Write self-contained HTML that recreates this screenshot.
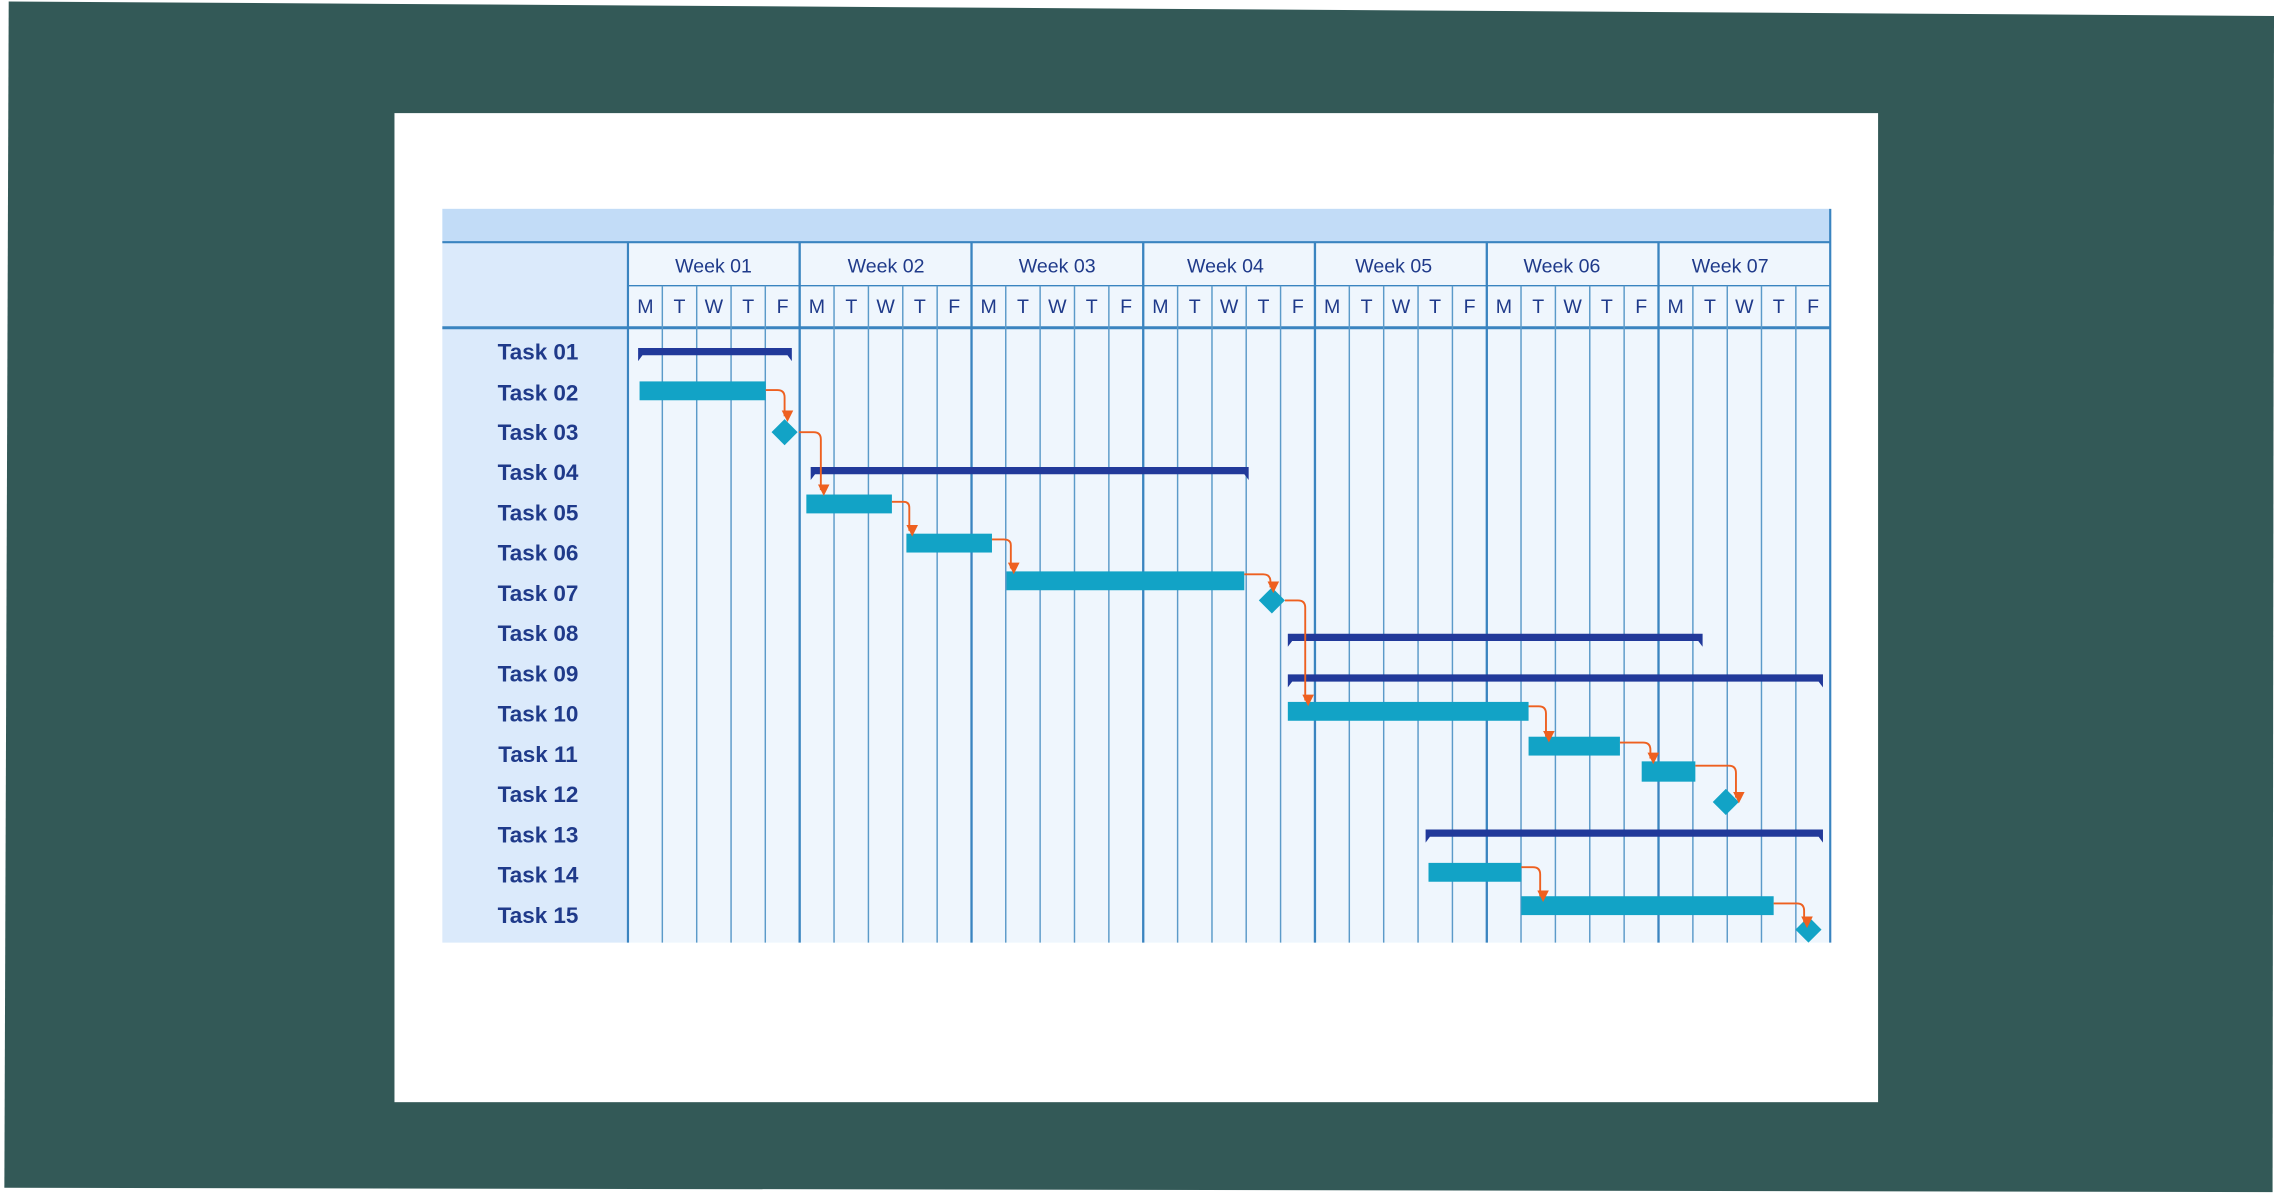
<!DOCTYPE html>
<html><head><meta charset="utf-8"><style>
html,body{margin:0;padding:0;background:#fff;}
svg{display:block;}
text{font-family:"Liberation Sans",sans-serif;}
</style></head><body>
<svg width="2274" height="1196" viewBox="0 0 1568 824.7" preserveAspectRatio="none" xmlns="http://www.w3.org/2000/svg">
<defs>
<marker id="ar" markerWidth="8" markerHeight="8" refX="4" refY="6" orient="auto" markerUnits="userSpaceOnUse" viewBox="0 0 8 8">
<path d="M0,0 L8,0 L4,8 Z" fill="#ee6020" transform="rotate(-90 4 4)"/>
</marker>
</defs>
<rect width="1568" height="824.7" fill="#fff"/>
<polygon points="6,1 1568,11 1567,822 3,819" fill="#335957"/>
<rect x="272" y="78" width="1023" height="682" fill="#fff"/>
<!-- chart -->
<rect x="305" y="144" width="957" height="23" fill="#c2dcf7"/>
<rect x="305" y="167" width="128" height="483" fill="#dbeafb"/>
<rect x="433" y="167" width="829" height="483" fill="#eff6fd"/>
<line x1="305" y1="167" x2="1262" y2="167" stroke="#3a84c0" stroke-width="1.5"/>
<line x1="433" y1="197" x2="1262" y2="197" stroke="#3a84c0" stroke-width="1"/>
<line x1="305" y1="226" x2="1262" y2="226" stroke="#3a84c0" stroke-width="2"/>
<line x1="433" y1="167" x2="433" y2="650" stroke="#3a84c0" stroke-width="1.5"/>
<line x1="1262" y1="144" x2="1262" y2="650" stroke="#3a84c0" stroke-width="1.5"/>
<g stroke="#5b9ac9" stroke-width="1">
<line x1="456.7" y1="197" x2="456.7" y2="650"/><line x1="480.4" y1="197" x2="480.4" y2="650"/><line x1="504.1" y1="197" x2="504.1" y2="650"/><line x1="527.7" y1="197" x2="527.7" y2="650"/>
<line x1="575.1" y1="197" x2="575.1" y2="650"/><line x1="598.8" y1="197" x2="598.8" y2="650"/><line x1="622.5" y1="197" x2="622.5" y2="650"/><line x1="646.2" y1="197" x2="646.2" y2="650"/>
<line x1="693.5" y1="197" x2="693.5" y2="650"/><line x1="717.2" y1="197" x2="717.2" y2="650"/><line x1="740.9" y1="197" x2="740.9" y2="650"/><line x1="764.6" y1="197" x2="764.6" y2="650"/>
<line x1="812" y1="197" x2="812" y2="650"/><line x1="835.7" y1="197" x2="835.7" y2="650"/><line x1="859.3" y1="197" x2="859.3" y2="650"/><line x1="883" y1="197" x2="883" y2="650"/>
<line x1="930.4" y1="197" x2="930.4" y2="650"/><line x1="954.1" y1="197" x2="954.1" y2="650"/><line x1="977.8" y1="197" x2="977.8" y2="650"/><line x1="1001.5" y1="197" x2="1001.5" y2="650"/>
<line x1="1048.8" y1="197" x2="1048.8" y2="650"/><line x1="1072.5" y1="197" x2="1072.5" y2="650"/><line x1="1096.2" y1="197" x2="1096.2" y2="650"/><line x1="1119.9" y1="197" x2="1119.9" y2="650"/>
<line x1="1167.3" y1="197" x2="1167.3" y2="650"/><line x1="1191" y1="197" x2="1191" y2="650"/><line x1="1214.6" y1="197" x2="1214.6" y2="650"/><line x1="1238.3" y1="197" x2="1238.3" y2="650"/>
</g>
<g stroke="#3a84c0" stroke-width="1.6">
<line x1="551.4" y1="167" x2="551.4" y2="650"/><line x1="669.9" y1="167" x2="669.9" y2="650"/><line x1="788.3" y1="167" x2="788.3" y2="650"/><line x1="906.7" y1="167" x2="906.7" y2="650"/><line x1="1025.2" y1="167" x2="1025.2" y2="650"/><line x1="1143.6" y1="167" x2="1143.6" y2="650"/>
</g>
<g fill="#1f3a8a" font-size="13.5" text-anchor="middle">
<text x="492" y="188">Week 01</text><text x="611" y="188">Week 02</text><text x="729" y="188">Week 03</text><text x="845" y="188">Week 04</text><text x="961" y="188">Week 05</text><text x="1077" y="188">Week 06</text><text x="1193" y="188">Week 07</text>
</g>
<g fill="#1f3a8a" font-size="13.5" text-anchor="middle">
<text x="445" y="216">M</text><text x="468.5" y="216">T</text><text x="492.2" y="216">W</text><text x="515.9" y="216">T</text><text x="539.6" y="216">F</text>
<text x="563.3" y="216">M</text><text x="587" y="216">T</text><text x="610.7" y="216">W</text><text x="634.3" y="216">T</text><text x="658" y="216">F</text>
<text x="681.7" y="216">M</text><text x="705.4" y="216">T</text><text x="729.1" y="216">W</text><text x="752.8" y="216">T</text><text x="776.5" y="216">F</text>
<text x="800.1" y="216">M</text><text x="823.8" y="216">T</text><text x="847.5" y="216">W</text><text x="871.2" y="216">T</text><text x="894.9" y="216">F</text>
<text x="918.6" y="216">M</text><text x="942.3" y="216">T</text><text x="966" y="216">W</text><text x="989.6" y="216">T</text><text x="1013.3" y="216">F</text>
<text x="1037" y="216">M</text><text x="1060.7" y="216">T</text><text x="1084.4" y="216">W</text><text x="1108" y="216">T</text><text x="1131.7" y="216">F</text>
<text x="1155.4" y="216">M</text><text x="1179.1" y="216">T</text><text x="1202.8" y="216">W</text><text x="1226.5" y="216">T</text><text x="1250.2" y="216">F</text>
</g>
<g fill="#1f3a8a" font-size="15.5" font-weight="bold" text-anchor="middle">
<text x="371" y="248">Task 01</text><text x="371" y="276">Task 02</text><text x="371" y="303.5">Task 03</text><text x="371" y="331">Task 04</text><text x="371" y="359">Task 05</text>
<text x="371" y="386.5">Task 06</text><text x="371" y="414.5">Task 07</text><text x="371" y="442">Task 08</text><text x="371" y="470">Task 09</text><text x="371" y="497.5">Task 10</text>
<text x="371" y="525.5">Task 11</text><text x="371" y="553">Task 12</text><text x="371" y="581">Task 13</text><text x="371" y="608.5">Task 14</text><text x="371" y="636.5">Task 15</text>
</g>
<!-- summary bars -->
<g fill="#21399a">
<path d="M440,240 H546 V249 L543,245 H443 L440,249 Z"/>
<path d="M559,322 H861 V331 L858,327 H562 L559,331 Z"/>
<path d="M888,437 H1174 V446 L1171,442 H891 L888,446 Z"/>
<path d="M888,465 H1257 V474 L1254,470 H891 L888,474 Z"/>
<path d="M983,572 H1257 V581 L1254,577 H986 L983,581 Z"/>
</g>
<!-- task bars -->
<g fill="#12a3c6">
<rect x="441" y="263" width="87" height="13"/>
<rect x="556" y="341" width="59" height="13"/>
<rect x="625" y="368" width="59" height="13"/>
<rect x="694" y="394" width="164" height="13"/>
<rect x="888" y="484" width="166" height="13"/>
<rect x="1054" y="508" width="63" height="13"/>
<rect x="1132" y="525" width="37" height="14"/>
<rect x="985" y="595" width="64" height="13"/>
<rect x="1049" y="618" width="174" height="13"/>
<polygon points="541,289 550,298 541,307 532,298"/>
<polygon points="877,405 886,414 877,423 868,414"/>
<polygon points="1190,544 1199,553 1190,562 1181,553"/>
<polygon points="1247,632 1256,641 1247,650 1238,641"/>
</g>
<!-- arrows -->
<g fill="none" stroke="#ee6020" stroke-width="1.3" marker-end="url(#ar)">
<path d="M528,269 H536 Q541,269 541,274 V287"/>
<path d="M551,298 H561 Q566,298 566,303 V338"/>
<path d="M615,346 H623 Q627,346 627,350 V366"/>
<path d="M684,372 H692 Q697,372 697,376 V392"/>
<path d="M858,396 H871 Q876,396 876,401 V405"/>
<path d="M886,414 H895 Q900,414 900,419 V483"/>
<path d="M1054,487 H1061 Q1066,487 1066,492 V508"/>
<path d="M1117,512 H1133 Q1138,512 1138,517 V523"/>
<path d="M1169,528 H1192 Q1197,528 1197,533 V550"/>
<path d="M1049,598 H1057 Q1062,598 1062,603 V618"/>
<path d="M1223,623 H1239 Q1244,623 1244,628 V636"/>
</g>
</svg>
</body></html>
